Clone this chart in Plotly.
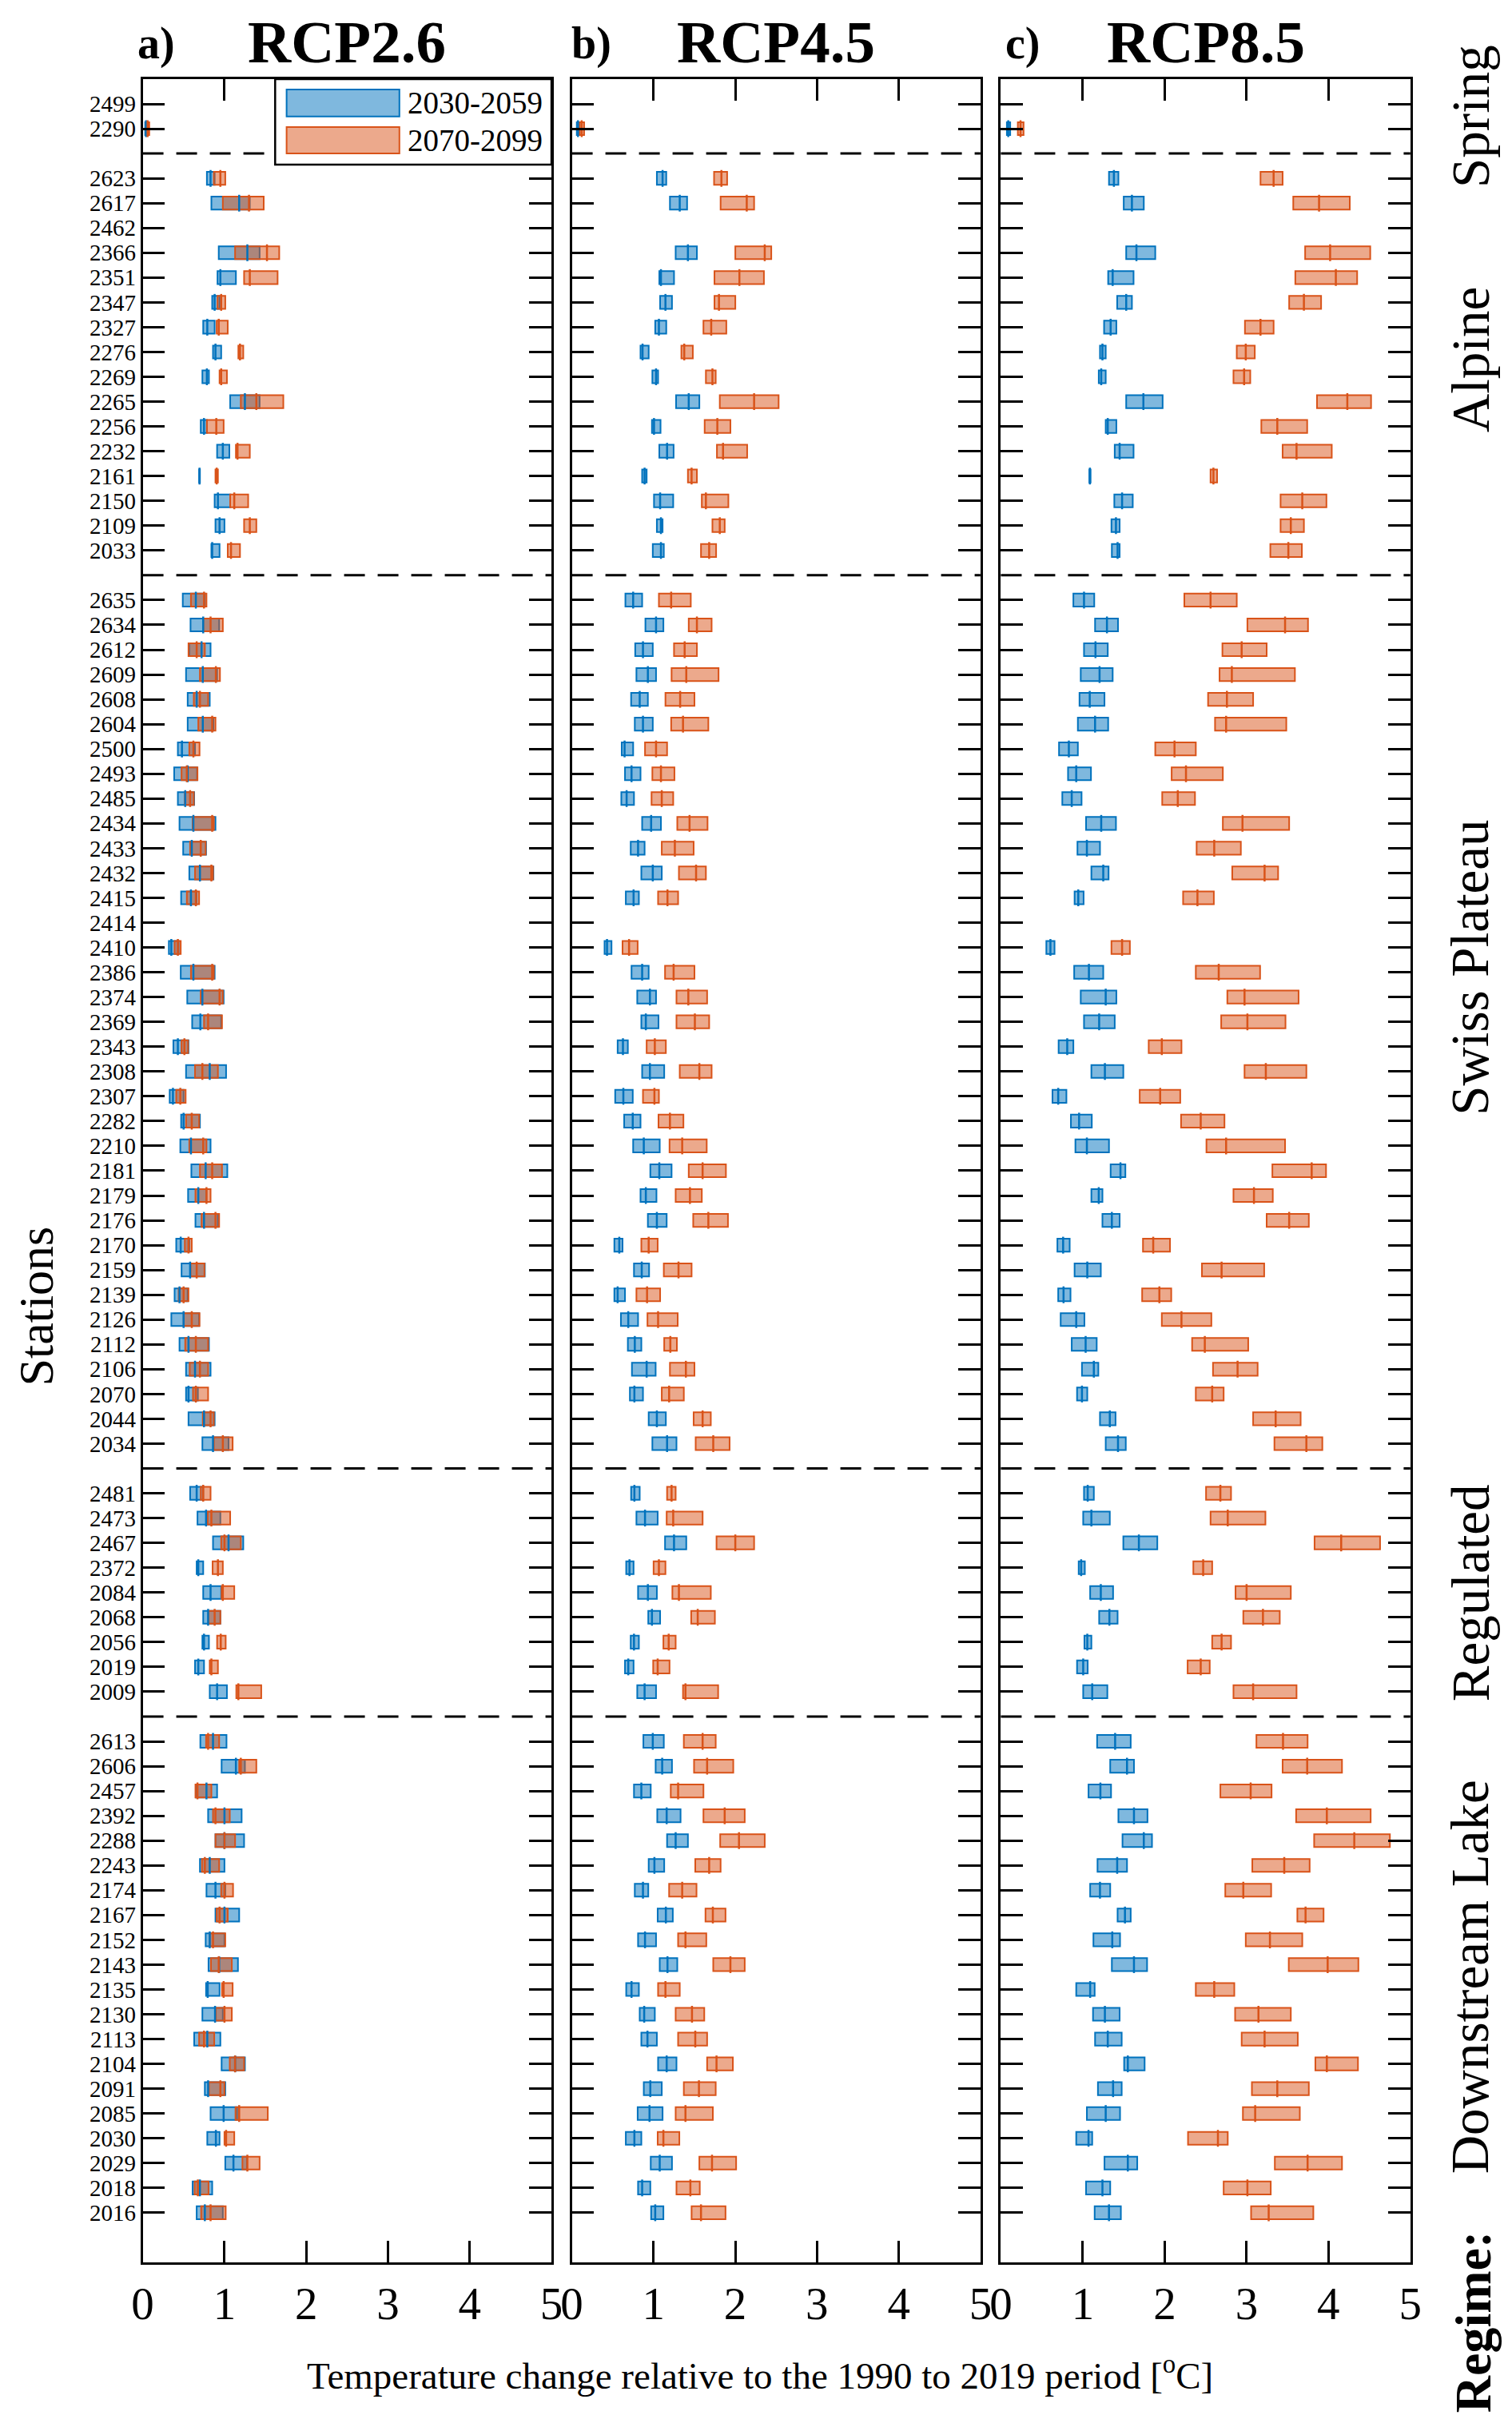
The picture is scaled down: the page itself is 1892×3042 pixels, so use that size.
import plotly.graph_objects as go

# station groups, top to bottom
SPRING = ["2499", "2290"]
ALPINE = ["2623", "2617", "2462", "2366", "2351", "2347", "2327", "2276", "2269",
          "2265", "2256", "2232", "2161", "2150", "2109", "2033"]
PLATEAU = ["2635", "2634", "2612", "2609", "2608", "2604", "2500", "2493", "2485",
           "2434", "2433", "2432", "2415", "2414", "2410", "2386", "2374", "2369",
           "2343", "2308", "2307", "2282", "2210", "2181", "2179", "2176", "2170",
           "2159", "2139", "2126", "2112", "2106", "2070", "2044", "2034"]
REGULATED = ["2481", "2473", "2467", "2372", "2084", "2068", "2056", "2019", "2009"]
DOWNSTREAM = ["2613", "2606", "2457", "2392", "2288", "2243", "2174", "2167", "2152",
              "2143", "2135", "2130", "2113", "2104", "2091", "2085", "2030", "2029",
              "2018", "2016"]
GROUP_NAMES = ["Spring", "Alpine", "Swiss Plateau", "Regulated", "Downstream Lake"]

SCENARIOS = ["RCP2.6", "RCP4.5", "RCP8.5"]
PANEL_TAGS = ["a)", "b)", "c)"]
PERIODS = ["2030-2059", "2070-2099"]
X_TICKS = [0, 1, 2, 3, 4, 5]

# (min, median, max) temperature change per station, None = no data
RCP26_NEAR = [
    None, (0.03, 0.04, 0.05),
    (0.785, 0.83, 0.88), (0.84, 1.18, 1.31), None, (0.93, 1.28, 1.43), (0.915, 0.95, 1.14),
    (0.85, 0.88, 0.94), (0.74, 0.79, 0.88), (0.86, 0.89, 0.96), (0.73, 0.785, 0.81),
    (1.07, 1.25, 1.43), (0.71, 0.75, 0.785), (0.91, 0.98, 1.06), (0.69, 0.695, 0.70),
    (0.88, 0.92, 1.07), (0.89, 0.94, 1.0), (0.84, 0.85, 0.94),
    (0.49, 0.65, 0.76), (0.585, 0.74, 0.935), (0.57, 0.72, 0.83), (0.53, 0.735, 0.91),
    (0.55, 0.66, 0.82), (0.55, 0.735, 0.865), (0.43, 0.48, 0.64), (0.385, 0.55, 0.665),
    (0.43, 0.52, 0.63), (0.45, 0.62, 0.89), (0.495, 0.60, 0.775), (0.57, 0.70, 0.865),
    (0.47, 0.59, 0.66), None, (0.32, 0.35, 0.44), (0.465, 0.62, 0.88), (0.545, 0.73, 0.99),
    (0.605, 0.705, 0.96), (0.375, 0.43, 0.56), (0.53, 0.82, 1.02), (0.33, 0.37, 0.50),
    (0.47, 0.50, 0.70), (0.46, 0.59, 0.83), (0.595, 0.77, 1.035), (0.555, 0.68, 0.78),
    (0.645, 0.75, 0.92), (0.41, 0.465, 0.57), (0.475, 0.58, 0.76), (0.39, 0.45, 0.55),
    (0.35, 0.50, 0.69), (0.45, 0.56, 0.81), (0.53, 0.64, 0.83), (0.53, 0.56, 0.675),
    (0.56, 0.75, 0.88), (0.73, 0.86, 1.05),
    (0.58, 0.66, 0.74), (0.67, 0.775, 0.95), (0.86, 1.05, 1.23), (0.66, 0.68, 0.74),
    (0.74, 0.83, 0.96), (0.74, 0.80, 0.95), (0.73, 0.75, 0.81), (0.64, 0.68, 0.75),
    (0.82, 0.91, 1.03),
    (0.705, 0.86, 1.025), (0.965, 1.14, 1.25), (0.65, 0.78, 0.91), (0.80, 1.0, 1.21),
    (0.89, 1.0, 1.24), (0.70, 0.82, 1.0), (0.78, 0.89, 1.01), (0.89, 1.0, 1.18),
    (0.77, 0.82, 1.0), (0.805, 0.935, 1.165), (0.775, 0.795, 0.94), (0.73, 0.885, 0.98),
    (0.63, 0.79, 0.95), (0.965, 1.13, 1.25), (0.76, 0.80, 1.01), (0.83, 0.99, 1.155),
    (0.79, 0.895, 0.94), (1.01, 1.11, 1.275), (0.61, 0.70, 0.85), (0.66, 0.76, 0.98),
]
RCP26_FAR = [
    None, (0.04, 0.06, 0.08),
    (0.87, 0.95, 1.01), (0.98, 1.30, 1.48), None, (1.13, 1.52, 1.67), (1.24, 1.31, 1.65),
    (0.915, 0.96, 1.01), (0.905, 0.93, 1.04), (1.17, 1.19, 1.23), (0.94, 0.96, 1.03),
    (1.20, 1.39, 1.72), (0.785, 0.90, 0.99), (1.14, 1.16, 1.31), (0.89, 0.905, 0.92),
    (1.07, 1.12, 1.29), (1.24, 1.31, 1.39), (1.04, 1.08, 1.19),
    (0.59, 0.75, 0.78), (0.74, 0.83, 0.98), (0.56, 0.66, 0.76), (0.70, 0.895, 0.945),
    (0.625, 0.70, 0.80), (0.68, 0.85, 0.89), (0.57, 0.62, 0.695), (0.475, 0.54, 0.67),
    (0.515, 0.58, 0.625), (0.61, 0.85, 0.87), (0.58, 0.71, 0.77), (0.64, 0.84, 0.86),
    (0.54, 0.65, 0.69), None, (0.39, 0.43, 0.465), (0.59, 0.85, 0.87), (0.71, 0.94, 0.98),
    (0.75, 0.80, 0.97), (0.475, 0.51, 0.555), (0.64, 0.73, 0.92), (0.41, 0.46, 0.525),
    (0.53, 0.60, 0.69), (0.57, 0.74, 0.78), (0.70, 0.85, 0.97), (0.645, 0.78, 0.83),
    (0.72, 0.89, 0.935), (0.515, 0.56, 0.60), (0.585, 0.66, 0.755), (0.44, 0.50, 0.56),
    (0.50, 0.60, 0.695), (0.52, 0.65, 0.80), (0.575, 0.70, 0.80), (0.615, 0.65, 0.80),
    (0.735, 0.83, 0.87), (0.87, 0.98, 1.10),
    (0.71, 0.74, 0.83), (0.795, 0.84, 1.07), (0.96, 1.0, 1.20), (0.855, 0.92, 0.98),
    (0.965, 0.98, 1.12), (0.805, 0.88, 0.95), (0.91, 0.955, 1.015), (0.82, 0.84, 0.92),
    (1.145, 1.17, 1.45),
    (0.775, 0.80, 0.935), (1.18, 1.20, 1.39), (0.645, 0.67, 0.84), (0.86, 0.89, 1.065),
    (0.89, 1.0, 1.13), (0.725, 0.76, 0.935), (0.96, 1.0, 1.105), (0.905, 0.94, 1.04),
    (0.82, 0.86, 1.01), (0.835, 0.93, 1.09), (0.97, 0.99, 1.10), (0.895, 1.0, 1.09),
    (0.69, 0.75, 0.875), (1.065, 1.13, 1.24), (0.81, 0.95, 1.0), (1.135, 1.18, 1.53),
    (1.0, 1.02, 1.12), (1.22, 1.28, 1.43), (0.635, 0.675, 0.805), (0.715, 0.83, 1.015),
]
RCP45_NEAR = [
    None, (0.06, 0.075, 0.095),
    (1.04, 1.11, 1.155), (1.20, 1.32, 1.41), None, (1.27, 1.42, 1.53), (1.07, 1.09, 1.25),
    (1.08, 1.145, 1.225), (1.02, 1.065, 1.155), (0.84, 0.865, 0.94), (0.985, 1.03, 1.055),
    (1.275, 1.43, 1.56), (0.98, 1.005, 1.085), (1.07, 1.165, 1.245), (0.86, 0.89, 0.915),
    (1.005, 1.08, 1.24), (1.04, 1.09, 1.11), (0.99, 1.09, 1.125),
    (0.655, 0.75, 0.86), (0.90, 1.03, 1.12), (0.775, 0.87, 0.99), (0.79, 0.93, 1.03),
    (0.725, 0.83, 0.93), (0.77, 0.87, 0.99), (0.61, 0.645, 0.75), (0.65, 0.73, 0.84),
    (0.605, 0.67, 0.76), (0.86, 0.97, 1.09), (0.72, 0.81, 0.89), (0.85, 0.99, 1.10),
    (0.66, 0.755, 0.82), None, (0.40, 0.43, 0.485), (0.73, 0.86, 0.94), (0.80, 0.955, 1.03),
    (0.85, 0.905, 1.06), (0.56, 0.625, 0.685), (0.86, 0.955, 1.13), (0.53, 0.63, 0.745),
    (0.64, 0.745, 0.84), (0.75, 0.88, 1.075), (0.96, 1.07, 1.22), (0.84, 0.905, 1.035),
    (0.93, 1.04, 1.16), (0.52, 0.58, 0.62), (0.76, 0.855, 0.945), (0.52, 0.56, 0.65),
    (0.60, 0.69, 0.81), (0.685, 0.77, 0.85), (0.735, 0.915, 1.025), (0.71, 0.765, 0.87),
    (0.94, 1.04, 1.15), (0.985, 1.165, 1.28),
    (0.725, 0.765, 0.83), (0.79, 0.895, 1.05), (1.14, 1.25, 1.40), (0.665, 0.705, 0.755),
    (0.81, 0.93, 1.04), (0.935, 0.98, 1.08), (0.72, 0.76, 0.82), (0.65, 0.69, 0.755),
    (0.80, 0.89, 1.03),
    (0.875, 0.99, 1.125), (1.025, 1.105, 1.225), (0.76, 0.85, 0.965), (1.045, 1.16, 1.33),
    (1.165, 1.27, 1.42), (0.94, 1.01, 1.13), (0.77, 0.87, 0.935), (1.05, 1.15, 1.235),
    (0.81, 0.895, 1.03), (1.075, 1.17, 1.29), (0.665, 0.73, 0.82), (0.83, 0.885, 1.015),
    (0.85, 0.925, 1.04), (1.055, 1.16, 1.28), (0.88, 0.96, 1.10), (0.805, 0.95, 1.11),
    (0.66, 0.765, 0.85), (0.965, 1.075, 1.225), (0.81, 0.86, 0.96), (0.97, 1.02, 1.12),
]
RCP45_FAR = [
    None, (0.095, 0.12, 0.15),
    (1.74, 1.83, 1.90), (1.82, 2.14, 2.23), None, (2.0, 2.36, 2.44), (1.745, 2.05, 2.35),
    (1.745, 1.80, 2.0), (1.61, 1.705, 1.89), (1.34, 1.375, 1.48), (1.64, 1.72, 1.76),
    (1.81, 2.23, 2.53), (1.625, 1.78, 1.94), (1.775, 1.85, 2.145), (1.42, 1.465, 1.53),
    (1.59, 1.64, 1.915), (1.72, 1.81, 1.87), (1.58, 1.68, 1.765),
    (1.065, 1.215, 1.455), (1.43, 1.53, 1.71), (1.25, 1.38, 1.53), (1.22, 1.40, 1.795),
    (1.145, 1.325, 1.50), (1.215, 1.36, 1.67), (0.895, 1.03, 1.165), (0.985, 1.09, 1.255),
    (0.975, 1.10, 1.24), (1.29, 1.44, 1.66), (1.10, 1.26, 1.49), (1.31, 1.52, 1.64),
    (1.055, 1.17, 1.30), None, (0.62, 0.70, 0.805), (1.14, 1.245, 1.50), (1.28, 1.425, 1.655),
    (1.28, 1.505, 1.68), (0.915, 1.015, 1.15), (1.32, 1.56, 1.71), (0.87, 1.01, 1.065),
    (1.06, 1.20, 1.365), (1.195, 1.35, 1.65), (1.43, 1.60, 1.885), (1.27, 1.445, 1.59),
    (1.485, 1.67, 1.91), (0.85, 0.94, 1.05), (1.125, 1.305, 1.465), (0.79, 0.92, 1.08),
    (0.925, 1.055, 1.295), (1.13, 1.205, 1.285), (1.20, 1.395, 1.50), (1.10, 1.19, 1.37),
    (1.49, 1.60, 1.70), (1.515, 1.73, 1.93),
    (1.165, 1.22, 1.27), (1.16, 1.24, 1.60), (1.77, 2.0, 2.23), (1.0, 1.065, 1.145),
    (1.23, 1.31, 1.70), (1.46, 1.54, 1.75), (1.12, 1.185, 1.27), (0.995, 1.05, 1.195),
    (1.36, 1.39, 1.79),
    (1.37, 1.60, 1.76), (1.495, 1.655, 1.975), (1.21, 1.30, 1.61), (1.61, 1.87, 2.115),
    (1.815, 2.045, 2.36), (1.51, 1.68, 1.82), (1.19, 1.35, 1.525), (1.635, 1.725, 1.88),
    (1.30, 1.39, 1.645), (1.73, 1.94, 2.115), (1.055, 1.145, 1.32), (1.27, 1.47, 1.62),
    (1.30, 1.51, 1.655), (1.655, 1.77, 1.97), (1.37, 1.555, 1.76), (1.27, 1.39, 1.725),
    (1.05, 1.12, 1.315), (1.56, 1.715, 2.01), (1.28, 1.45, 1.565), (1.465, 1.58, 1.88),
]
RCP85_NEAR = [
    None, (0.073, 0.09, 0.114),
    (1.32, 1.38, 1.435), (1.50, 1.60, 1.745), None, (1.53, 1.655, 1.885), (1.31, 1.365, 1.62),
    (1.42, 1.53, 1.60), (1.26, 1.34, 1.41), (1.21, 1.24, 1.28), (1.195, 1.225, 1.28),
    (1.53, 1.74, 1.975), (1.28, 1.305, 1.41), (1.39, 1.45, 1.62), (1.08, 1.087, 1.095),
    (1.385, 1.48, 1.61), (1.35, 1.405, 1.45), (1.355, 1.425, 1.45),
    (0.885, 1.015, 1.14), (1.15, 1.295, 1.43), (1.015, 1.155, 1.305), (0.975, 1.205, 1.365),
    (0.96, 1.085, 1.265), (0.94, 1.15, 1.31), (0.71, 0.83, 0.94), (0.82, 0.92, 1.10),
    (0.75, 0.865, 0.985), (1.04, 1.225, 1.405), (0.935, 1.05, 1.21), (1.105, 1.25, 1.315),
    (0.90, 0.945, 1.01), None, (0.555, 0.605, 0.655), (0.895, 1.075, 1.25), (0.975, 1.28, 1.41),
    (1.015, 1.20, 1.39), (0.705, 0.81, 0.885), (1.105, 1.27, 1.495), (0.63, 0.70, 0.80),
    (0.855, 0.955, 1.11), (0.91, 1.05, 1.32), (1.34, 1.46, 1.52), (1.105, 1.195, 1.24),
    (1.24, 1.355, 1.45), (0.69, 0.76, 0.84), (0.90, 1.055, 1.22), (0.70, 0.765, 0.85),
    (0.73, 0.92, 1.02), (0.865, 1.035, 1.17), (0.99, 1.135, 1.19), (0.93, 0.99, 1.055),
    (1.21, 1.33, 1.40), (1.28, 1.43, 1.525),
    (1.015, 1.06, 1.135), (1.005, 1.105, 1.33), (1.495, 1.685, 1.91), (0.95, 0.98, 1.025),
    (1.09, 1.22, 1.37), (1.20, 1.325, 1.425), (1.02, 1.055, 1.105), (0.93, 1.005, 1.06),
    (1.005, 1.115, 1.30),
    (1.175, 1.395, 1.585), (1.335, 1.54, 1.625), (1.07, 1.215, 1.345), (1.435, 1.625, 1.79),
    (1.485, 1.745, 1.845), (1.18, 1.42, 1.54), (1.09, 1.21, 1.335), (1.425, 1.515, 1.585),
    (1.13, 1.36, 1.455), (1.355, 1.625, 1.785), (0.92, 1.09, 1.145), (1.125, 1.27, 1.45),
    (1.15, 1.305, 1.475), (1.505, 1.55, 1.755), (1.185, 1.37, 1.475), (1.05, 1.28, 1.455),
    (0.92, 1.07, 1.115), (1.265, 1.55, 1.665), (1.04, 1.24, 1.335), (1.145, 1.32, 1.465),
]
RCP85_FAR = [
    None, (0.207, 0.24, 0.277),
    (3.17, 3.33, 3.44), (3.57, 3.885, 4.26), None, (3.715, 4.02, 4.51), (3.595, 4.09, 4.35),
    (3.52, 3.70, 3.91), (2.98, 3.17, 3.33), (2.88, 2.99, 3.10), (2.84, 2.97, 3.045),
    (3.86, 4.23, 4.52), (3.18, 3.375, 3.74), (3.44, 3.61, 4.04), (2.56, 2.595, 2.64),
    (3.415, 3.68, 3.975), (3.415, 3.54, 3.70), (3.29, 3.51, 3.675),
    (2.24, 2.56, 2.88), (3.01, 3.47, 3.75), (2.705, 2.94, 3.245), (2.67, 2.82, 3.59),
    (2.53, 2.76, 3.08), (2.615, 2.75, 3.485), (1.885, 2.12, 2.38), (2.085, 2.26, 2.71),
    (1.97, 2.16, 2.37), (2.71, 2.95, 3.52), (2.39, 2.605, 2.93), (2.825, 3.22, 3.385),
    (2.225, 2.40, 2.60), None, (1.35, 1.48, 1.575), (2.38, 2.66, 3.165), (2.765, 2.975, 3.635),
    (2.69, 3.01, 3.475), (1.805, 1.965, 2.205), (2.975, 3.235, 3.73), (1.695, 1.945, 2.19),
    (2.20, 2.44, 2.73), (2.51, 2.75, 3.47), (3.315, 3.795, 3.97), (2.84, 3.09, 3.32),
    (3.245, 3.52, 3.76), (1.735, 1.86, 2.065), (2.455, 2.695, 3.215), (1.725, 1.935, 2.08),
    (1.965, 2.205, 2.57), (2.335, 2.49, 3.02), (2.59, 2.89, 3.135), (2.38, 2.58, 2.72),
    (3.08, 3.355, 3.66), (3.34, 3.73, 3.925),
    (2.505, 2.68, 2.81), (2.56, 2.77, 3.23), (3.83, 4.155, 4.63), (2.35, 2.47, 2.58),
    (2.865, 3.0, 3.54), (2.96, 3.20, 3.405), (2.58, 2.695, 2.81), (2.28, 2.44, 2.55),
    (2.84, 3.08, 3.61),
    (3.12, 3.445, 3.745), (3.44, 3.74, 4.165), (2.68, 3.05, 3.305), (3.605, 3.98, 4.515),
    (3.825, 4.315, 4.75), (3.07, 3.46, 3.77), (2.74, 2.96, 3.30), (3.62, 3.72, 3.94),
    (2.99, 3.285, 3.68), (3.515, 3.99, 4.365), (2.38, 2.605, 2.85), (2.86, 3.145, 3.54),
    (2.94, 3.22, 3.625), (3.84, 3.98, 4.36), (3.065, 3.375, 3.76), (2.955, 3.105, 3.65),
    (2.285, 2.65, 2.77), (3.345, 3.745, 4.165), (2.72, 3.01, 3.295), (3.055, 3.27, 3.815),
]

PANEL_DATA = [(RCP26_NEAR, RCP26_FAR), (RCP45_NEAR, RCP45_FAR), (RCP85_NEAR, RCP85_FAR)]

FONT = "Liberation Serif, Times New Roman, serif"
EDGE = ["#0072BD", "#D95319"]
FILL = ["rgba(0,114,189,0.5)", "rgba(217,83,25,0.5)"]

# y positions: one empty slot between groups, dashed line there
groups = [SPRING, ALPINE, PLATEAU, REGULATED, DOWNSTREAM]
stations, ypos, seps = [], [], []
i = 0
for g in groups:
    for s in g:
        stations.append(s)
        ypos.append(i)
        i += 1
    seps.append(i)
    i += 1
seps = seps[:-1]

x_domains = [[0.0840, 0.3584], [0.3721, 0.6464], [0.6601, 0.9350]]
y_domain = [0.0720, 0.9701]

fig = go.Figure()

for p, (near, far) in enumerate(PANEL_DATA):
    xa = "x" if p == 0 else f"x{p + 1}"
    ya = "y" if p == 0 else f"y{p + 1}"
    for k, series in enumerate([near, far]):
        rows = [(y, v) for y, v in zip(ypos, series) if v is not None]
        ys = [y for y, v in rows]
        lo = [v[0] for y, v in rows]
        med = [v[1] for y, v in rows]
        hi = [v[2] for y, v in rows]
        fig.add_trace(go.Bar(
            orientation="h", y=ys, base=lo, x=[h - l for h, l in zip(hi, lo)],
            width=0.52, marker=dict(color=FILL[k], line=dict(color=EDGE[k], width=2)),
            xaxis=xa, yaxis=ya, showlegend=False, name=PERIODS[k],
        ))
        fig.add_trace(go.Scatter(
            x=med, y=ys, mode="markers",
            marker=dict(symbol="line-ns", size=15, line=dict(color=EDGE[k], width=2.5)),
            xaxis=xa, yaxis=ya, showlegend=False, hoverinfo="skip",
        ))

axis_common = dict(showline=True, linecolor="black", linewidth=2.5, mirror="ticks",
                   ticks="inside", tickcolor="black", tickwidth=2.5, zeroline=False,
                   showgrid=False)

layout = dict(
    width=1892, height=3042, margin=dict(l=0, r=0, t=0, b=0),
    paper_bgcolor="white", plot_bgcolor="white", barmode="overlay",
    font=dict(family=FONT, color="black"), showlegend=False,
)
for p in range(3):
    sx = "" if p == 0 else str(p + 1)
    layout["xaxis" + sx] = dict(
        axis_common, domain=x_domains[p], range=[0, 5], tickvals=X_TICKS,
        ticklen=27, anchor="y" + sx, tickfont=dict(family=FONT, size=57, color="black"),
        ticklabelstandoff=0,
    )
    layout["yaxis" + sx] = dict(
        axis_common, domain=y_domain, range=[max(ypos) + 2, -1], tickvals=ypos,
        ticktext=stations, ticklen=28, anchor="x" + sx, showticklabels=(p == 0),
        tickfont=dict(family=FONT, size=29, color="black"),
    )
fig.update_layout(**layout)

# dashed separators between groups
for p in range(3):
    sx = "" if p == 0 else str(p + 1)
    for s in seps:
        fig.add_shape(type="line", xref=f"x{sx} domain", yref=f"y{sx}", x0=0, x1=1,
                      y0=s, y1=s, line=dict(color="black", width=3, dash="26px,16px"))

# legend box in panel a
fig.add_shape(type="rect", xref="x", yref="y", x0=1.62, x1=5, y0=-1, y1=2.45,
              fillcolor="white", line=dict(color="black", width=2.5))
for k, (y0, y1) in enumerate([(-0.58, 0.51), (0.93, 2.0)]):
    fig.add_shape(type="rect", xref="x", yref="y", x0=1.76, x1=3.14, y0=y0, y1=y1,
                  fillcolor=FILL[k], line=dict(color=EDGE[k], width=2))
    fig.add_annotation(xref="x", yref="y", x=3.22, y=(y0 + y1) / 2, text=PERIODS[k],
                       showarrow=False, xanchor="left", yanchor="middle",
                       font=dict(family=FONT, size=39, color="black"))

# panel titles
tag_x = [0.093, 0.385, 0.675]
for p in range(3):
    fig.add_annotation(xref="paper", yref="paper", x=tag_x[p], y=0.9846,
                       text=f"<b>{PANEL_TAGS[p]}</b>", showarrow=False,
                       xanchor="center", yanchor="middle",
                       font=dict(family=FONT, size=56, color="black"))
    fig.add_annotation(xref="paper", yref="paper", x=sum(x_domains[p]) / 2, y=0.9853,
                       text=f"<b>{SCENARIOS[p]}</b>", showarrow=False,
                       xanchor="center", yanchor="middle",
                       font=dict(family=FONT, size=75, color="black"))

# regime labels on the right
label_y = [0.5, 10.3, 34.8, 60.0, 75.5]
for name, yy in zip(GROUP_NAMES, label_y):
    fig.add_annotation(xref="paper", yref="y3", x=0.975, y=yy, text=name, textangle=-90,
                       showarrow=False, xanchor="center", yanchor="middle",
                       font=dict(family=FONT, size=67, color="black"))
fig.add_annotation(xref="paper", yref="paper", x=0.977, y=0.0473, text="<b>Regime:</b>",
                   textangle=-90, showarrow=False, xanchor="center", yanchor="middle",
                   font=dict(family=FONT, size=64, color="black"))

fig.add_annotation(xref="paper", yref="paper", x=0.0125, y=0.4654, text="Stations",
                   textangle=-90, showarrow=False, xanchor="center", yanchor="middle",
                   font=dict(family=FONT, size=62, color="black"))
fig.add_annotation(xref="paper", yref="paper", x=0.4985, y=0.0263,
                   text="Temperature change relative to the 1990 to 2019 period [<sup>o</sup>C]",
                   showarrow=False, xanchor="center", yanchor="middle",
                   font=dict(family=FONT, size=47, color="black"))

fig.write_html("out.html")
